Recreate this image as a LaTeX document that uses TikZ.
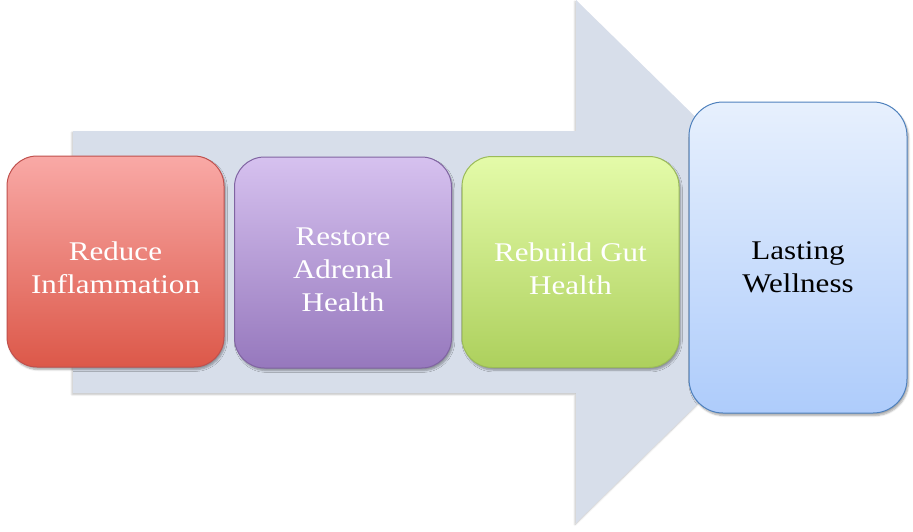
\documentclass[tikz,border=0pt]{standalone}
\usepackage{fontspec}
\setmainfont[FakeStretch=1.15]{Liberation Serif}
\usetikzlibrary{shadows.blur}
\definecolor{arrowfill}{HTML}{D7DEEA}
\definecolor{redtop}{HTML}{F9A9A6}
\definecolor{redbot}{HTML}{DC5849}
\definecolor{redline}{HTML}{C0504D}
\definecolor{purtop}{HTML}{D6C1EF}
\definecolor{purbot}{HTML}{9678BD}
\definecolor{purline}{HTML}{8064A2}
\definecolor{grntop}{HTML}{E4FBA9}
\definecolor{grnbot}{HTML}{ADD05D}
\definecolor{grnline}{HTML}{9BBB59}
\definecolor{blutop}{HTML}{E7F0FD}
\definecolor{blubot}{HTML}{AECCFB}
\definecolor{bluline}{HTML}{4F81BD}
\newcommand\toppad[1]{\rule{0pt}{#1}}
\tikzset{
  stagebox/.style={draw, line width=1pt, rounded corners=30pt, align=center,
    minimum width=217pt, minimum height=211pt, inner sep=0pt,
    font=\fontsize{27}{33}\selectfont,
    blur shadow={shadow xshift=1.5pt, shadow yshift=-2.5pt, shadow blur steps=6, shadow opacity=35}},
}
\begin{document}
\begin{tikzpicture}[x=1pt,y=-1pt]
\useasboundingbox (0,0) rectangle (913,531);
% big arrow
\fill[arrowfill, blur shadow={shadow xshift=-1pt, shadow yshift=-1.5pt, shadow blur steps=4, shadow opacity=25}] (73,131) -- (576,131) -- (576,0) -- (843,261.5) -- (576,523) -- (576,393) -- (73,393) -- cycle;
\node[stagebox, draw=redline, top color=redtop, bottom color=redbot, text=white] (red) at (115.5,261.5) {\toppad{32pt}Reduce\\Inflammation};
\node[stagebox, draw=purline, top color=purtop, bottom color=purbot, text=white] (pur) at (343,262.5) {\toppad{32pt}Restore\\Adrenal\\Health};
\node[stagebox, draw=grnline, top color=grntop, bottom color=grnbot, text=white] (grn) at (570.5,262) {\toppad{32pt}Rebuild Gut\\Health};
\node[stagebox, draw=bluline, top color=blutop, bottom color=blubot, text=black, minimum width=218pt, minimum height=311pt, rounded corners=34pt] (blu) at (798,257.5) {\toppad{37pt}Lasting\\Wellness};
\end{tikzpicture}
\end{document}
